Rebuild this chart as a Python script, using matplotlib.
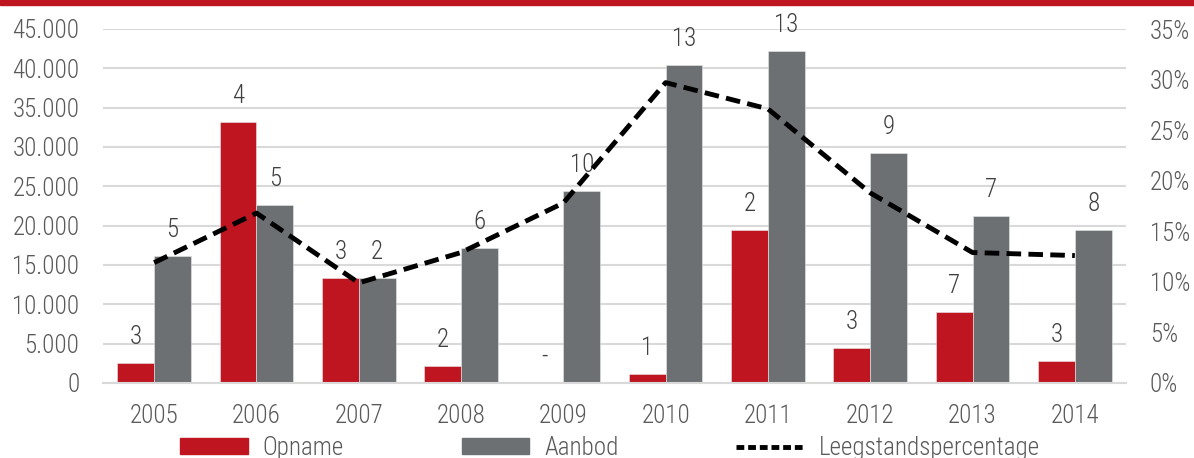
import matplotlib
matplotlib.use('Agg')
import matplotlib.pyplot as plt
import numpy as np
from matplotlib.patches import Rectangle, Patch
from matplotlib.lines import Line2D
from matplotlib.ticker import FuncFormatter

plt.rcParams['font.family'] = ['Roboto Condensed', 'DejaVu Sans']
plt.rcParams['font.weight'] = 'light'

years = ['2005', '2006', '2007', '2008', '2009', '2010', '2011', '2012', '2013', '2014']
opname = [2600, 33200, 13300, 2200, 0, 1200, 19400, 4500, 9000, 2800]
aanbod = [16100, 22600, 13300, 17100, 24400, 40400, 42200, 29300, 21200, 19400]
leegstand = [11.9, 16.8, 9.9, 12.9, 17.8, 29.7, 27.1, 18.8, 12.9, 12.6]
opname_labels = ['3', '4', '3', '2', '-', '1', '2', '3', '7', '3']
aanbod_labels = ['5', '5', '2', '6', '10', '13', '13', '9', '7', '8']

RED = '#BE1520'
GRAY = '#6D7073'
TXT = '#595959'

fig = plt.figure(figsize=(11.94, 4.58), dpi=100)
ax = fig.add_axes([103/1194, 75/458, 1023/1194, 354/458])
ax2 = ax.twinx()

x = np.arange(len(years))
w = 0.36
ax.bar(x - w/2, opname, w, color=RED, edgecolor='#e8e8e8', linewidth=0.4, zorder=2)
ax.bar(x + w/2, aanbod, w, color=GRAY, edgecolor='#e8e8e8', linewidth=0.4, zorder=2)

for xi, v, lab in zip(x, opname, opname_labels):
    ax.annotate(lab, (xi - w/2, v), xytext=(0, 14), textcoords='offset pixels',
                ha='center', va='bottom', fontsize=18, color='#404040')
for xi, v, lab in zip(x, aanbod, aanbod_labels):
    ax.annotate(lab, (xi + w/2, v), xytext=(0, 14), textcoords='offset pixels',
                ha='center', va='bottom', fontsize=18, color='#404040')

ax.set_xlim(-0.5, len(years) - 0.5)
ax.set_ylim(0, 45000)
ax.set_yticks(np.arange(0, 45001, 5000))
ax.yaxis.set_major_formatter(FuncFormatter(lambda v, p: f'{int(v):,}'.replace(',', '.')))
ax.set_xticks(x)
ax.set_xticklabels(years)
ax.grid(axis='y', color='#D9D9D9', linewidth=1.5, zorder=0)
ax.set_axisbelow(True)
ax.tick_params(axis='both', length=0, labelsize=18, colors=TXT)
ax.tick_params(axis='y', pad=17)
ax.tick_params(axis='x', pad=15)

ax2.plot(x, leegstand, color='black', linewidth=3.5, dashes=(3.0, 1.5), zorder=3)
ax2.set_ylim(0, 35)
ax2.set_yticks(np.arange(0, 36, 5))
ax2.yaxis.set_major_formatter(FuncFormatter(lambda v, p: f'{int(v)}%'))
ax2.tick_params(axis='y', length=0, labelsize=18, colors=TXT, pad=17)

for a in (ax, ax2):
    for s in a.spines.values():
        s.set_visible(False)
ax.spines['bottom'].set_visible(True)
ax.spines['bottom'].set_color('#D9D9D9')
ax.spines['bottom'].set_linewidth(1.5)

handles = [Patch(color=RED), Patch(color=GRAY),
           Line2D([0], [0], color='black', linewidth=3.5, dashes=(1.6, 0.8))]
leg = fig.legend(handles, ['Opname', 'Aanbod', 'Leegstandspercentage'],
                 loc='center', bbox_to_anchor=(610/1194, 10/458), ncol=3,
                 frameon=False, fontsize=18, handlelength=2.7, handleheight=0.6,
                 handletextpad=0.6, columnspacing=4.7, labelcolor=TXT)

fig.patches.append(Rectangle((0, 1 - 5/458), 1, 5/458, transform=fig.transFigure,
                             color=RED, zorder=0))

fig.savefig('out.png', dpi=100)
